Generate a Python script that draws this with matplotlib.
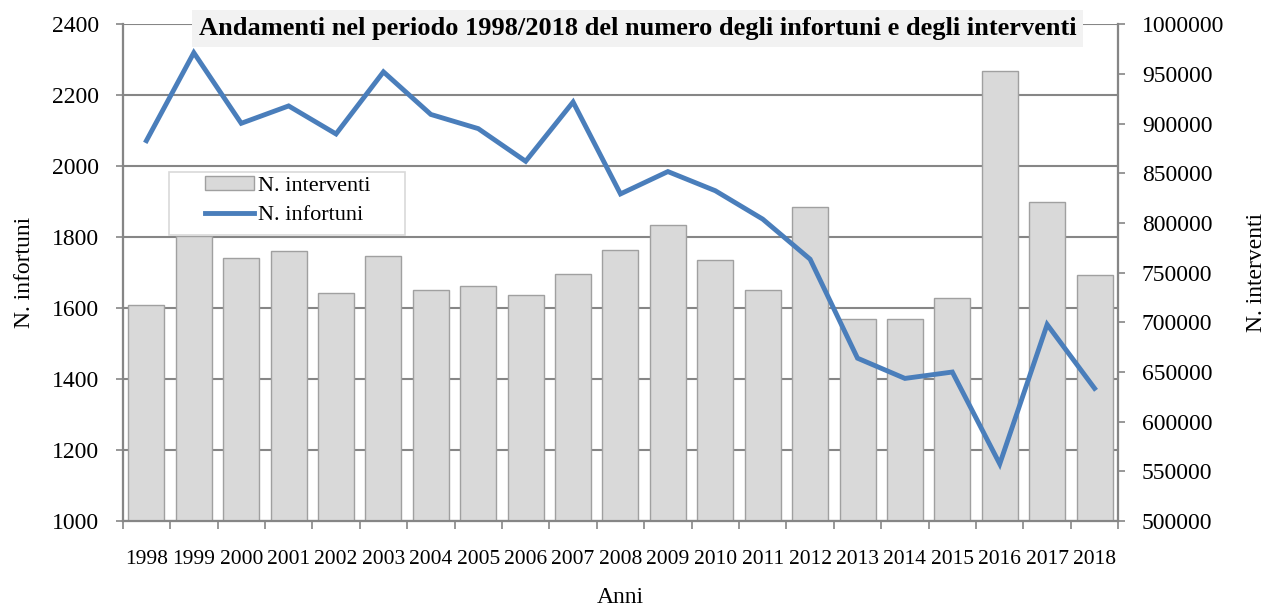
import numpy as np
import matplotlib
matplotlib.use("Agg")
import matplotlib.pyplot as plt
from matplotlib.patches import Patch, Rectangle
from matplotlib.lines import Line2D
from matplotlib.ticker import FuncFormatter

plt.rcParams['font.family'] = ['Liberation Serif', 'DejaVu Serif']

# Data
anni = ['1998', '1999', '2000', '2001', '2002', '2003', '2004', '2005', '2006', '2007', '2008',
        '2009', '2010', '2011', '2012', '2013', '2014', '2015', '2016', '2017', '2018']
interventi = [717000, 787000, 764400, 771500, 729500, 767100, 732900, 736600, 727500, 749000, 772500,
              797700, 762800, 732900, 816200, 703300, 702900, 724500, 952600, 821600, 748000]
infortuni = [2072, 2320, 2121, 2170, 2091, 2266, 2146, 2106, 2014, 2181, 1922,
             1985, 1931, 1851, 1738, 1459, 1402, 1420, 1161, 1554, 1374]

left_ticks = np.arange(1000, 2401, 200)
right_ticks = np.arange(500000, 1000001, 50000)

grey = '#868686'
bar_col = '#d9d9d9'
bar_edge = '#a0a0a0'
line_col = '#4a7ebb'

fig = plt.figure(figsize=(12.65, 6.08), dpi=100)
ax1 = fig.add_axes([0.097, 0.143, 0.787, 0.817])
ax2 = ax1.twinx()   # bars, right axis
ax3 = ax1.twinx()   # line, same scale as left axis

x = np.arange(len(anni))

# left axis: gridlines + ticks
ax1.set_ylim(1000, 2400)
ax1.set_xlim(-0.5, len(anni) - 0.5)
ax1.set_yticks(left_ticks)
ax1.grid(axis='y', color=grey, linewidth=1.5)
ax1.set_axisbelow(True)
ax1.tick_params(axis='y', labelsize=17, length=5, width=1.2, color=grey, pad=12)
ax1.set_xticks(np.arange(len(anni) + 1) - 0.5)
ax1.set_xticklabels([])
ax1.set_xticks(x, minor=True)
ax1.set_xticklabels(anni, minor=True)
ax1.tick_params(axis='x', which='major', length=6, width=1.2, color=grey)
ax1.tick_params(axis='x', which='minor', length=0, pad=21, labelsize=15.5)
ax1.set_ylabel('N. infortuni', fontsize=17, labelpad=12)

# right axis: bars
ax2.bar(x, interventi, width=0.76, color=bar_col, edgecolor=bar_edge, linewidth=1.0, zorder=2)
ax2.set_ylim(500000, 1000000)
ax2.set_yticks(right_ticks)
ax2.yaxis.set_major_formatter(FuncFormatter(lambda v, p: f'{int(v)}'))
ax2.tick_params(axis='y', labelsize=17, length=5, width=1.2, color=grey, pad=12)
ax2.set_ylabel('N. interventi', fontsize=17, labelpad=15.5)
ax2.patch.set_visible(False)

# line on top
ax3.plot(x, infortuni, color=line_col, linewidth=3.5, solid_joinstyle='miter', zorder=5)
ax3.set_ylim(1000, 2400)
ax3.set_yticks([])
ax3.patch.set_visible(False)

for a in (ax1, ax2, ax3):
    a.spines['top'].set_visible(False)
    for side in ('left', 'right', 'bottom'):
        a.spines[side].set_color(grey)
        a.spines[side].set_linewidth(1.5)

# legend frame drawn separately (wide side padding as in the original)
ax3.add_patch(Rectangle((0.0462, 0.5758), 0.2372, 0.1268, transform=ax3.transAxes,
                        facecolor='white', edgecolor='#d9d9d9', linewidth=1.2, zorder=6))
handles = [Patch(facecolor=bar_col, edgecolor=bar_edge, label='N. interventi'),
           Line2D([0], [0], color=line_col, linewidth=3.5, label='N. infortuni')]
leg = ax3.legend(handles=handles, loc='upper left', bbox_to_anchor=(0.0824, 0.694),
                 fontsize=16, frameon=False, handlelength=2.2, handleheight=0.6,
                 borderpad=0, labelspacing=0.4, handletextpad=0.2, borderaxespad=0)
leg.set_zorder(7)

fig.text(0.504, 0.953, 'Andamenti nel periodo 1998/2018 del numero degli infortuni e degli interventi',
         ha='center', va='center', fontsize=19, fontweight='bold',
         bbox=dict(facecolor='#f2f2f2', edgecolor='none', pad=5))

fig.text(0.49, 0.008, 'Anni', ha='center', va='baseline', fontsize=17)

fig.savefig('out.png', dpi=100)
